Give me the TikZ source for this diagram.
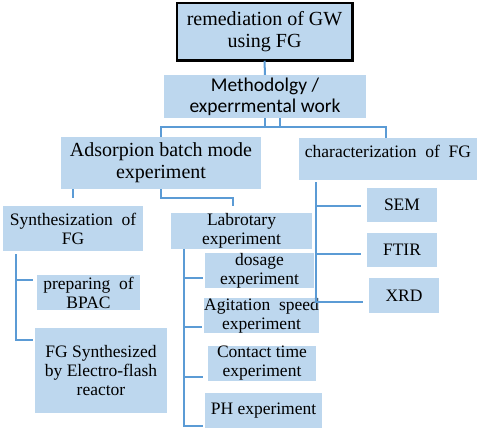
\documentclass[tikz,border=0pt]{standalone}
\usepackage{fontspec}
\setmainfont{Liberation Serif}
\newfontfamily\calibri{Carlito}
\usetikzlibrary{positioning,calc}
\definecolor{boxblue}{HTML}{BDD7EE}
\definecolor{lineblue}{HTML}{5B9BD5}
\tikzset{
  blk/.style={fill=boxblue, inner sep=0pt, align=center, text=black},
  big/.style={font=\rmfamily\fontsize{20}{22}\selectfont},
  small/.style={font=\rmfamily\fontsize{17.5}{19}\selectfont},
  conn/.style={draw=lineblue, line width=2pt},
}

\begin{document}
\begin{tikzpicture}[x=1pt,y=-1pt]
\useasboundingbox (0,0) rectangle (480,432);

% top levels
\node[blk, big, draw=black, line width=1.5pt, minimum width=175pt, minimum height=57pt] (goal) at (264.5,31.5) {remediation of GW\\using FG};
\draw[line width=2.8pt] (goal.north east) -- (goal.south east) -- (goal.south west);
\node[blk, font=\calibri\fontsize{19.5}{21}\selectfont, minimum width=202pt, minimum height=43pt] (meth) at (265,96.5) {Methodolgy /\\experrmental work};
\node[blk, big, minimum width=200pt, minimum height=52pt] (ads) at (161,163) {Adsorpion batch mode\\experiment};
\node[blk, small, text depth=15pt, minimum width=178pt, minimum height=42pt] (char) at (388,159) {characterization\ \ of\ \ FG};

% adsorption branch
\node[blk, small, minimum width=140pt, minimum height=45pt] (synth) at (73,228.5) {Synthesization\ \ of\\FG};
\node[blk, small, minimum width=141pt, minimum height=36pt] (lab) at (241.5,231) {Labrotary\\experiment};
\node[blk, small, minimum width=103pt, minimum height=35pt] (prep) at (88.5,292.5) {preparing\ \ of\\BPAC};
\node[blk, small, minimum width=132pt, minimum height=85pt] (fgs) at (101,370.5) {FG Synthesized\\by Electro-flash\\reactor};
\node[blk, small, minimum width=109pt, minimum height=35pt] (dos) at (259.5,270.5) {dosage\\experiment};
\node[blk, small, minimum width=113pt, minimum height=35pt] (agit) at (261.5,315.5) {Agitation\ \ speed\\experiment};
\node[blk, small, minimum width=108pt, minimum height=35pt] (cont) at (262,363.5) {Contact time\\experiment};
\node[blk, small, minimum width=117pt, minimum height=35pt] (ph) at (263.5,410.5) {PH experiment};

% characterization branch
\node[blk, small, minimum width=70pt, minimum height=34pt] (sem) at (402,205) {SEM};
\node[blk, small, minimum width=70pt, minimum height=34pt] (ftir) at (402,250) {FTIR};
\node[blk, small, minimum width=70pt, minimum height=35pt] (xrd) at (404,295.5) {XRD};

% connectors
\draw[conn] (goal.south) -- (meth.north);
\coordinate (bus) at ($(meth.south)+(0,9)$);
\draw[conn] (meth.south) -- (bus);
\draw[conn] ($(meth.south)+(15,0)$) -- ++(0,9);
\draw[conn] (ads.north) |- (bus) -| ($(char.north)+(-2,0)$);

\draw[conn] (synth.north |- ads.south) -- ++(0,9);
\draw[conn] (ads.south) -- ++(0,9) -| ($(lab.north)+(-9,-7)$);

\coordinate (sv) at ($(synth.south west)+(13,3)$);
\draw[conn] (sv) |- ($(prep.north west)+(-4,5)$);
\draw[conn] (sv) |- ($(fgs.north west)+(-2,12)$);

\coordinate (lv) at ($(lab.south west)+(13,0)$);
\draw[conn] (lv) |- ($(dos.south west)+(-2,-10)$);
\draw[conn] (lv) |- ($(agit.south west)+(-2,-6)$);
\draw[conn] (lv) |- ($(cont.south west)+(-5,-4)$);
\draw[conn] (lv) |- ($(ph.south west)+(-2,-2)$);

\coordinate (cv) at ($(char.south west)+(17,2)$);
\draw[conn] (cv) |- ($(sem.west)+(-6,1)$);
\draw[conn] (cv) |- ($(ftir.west)+(-6,4)$);
\draw[conn] (cv) |- ($(xrd.west)+(-6,6.5)$);
\end{tikzpicture}
\end{document}
